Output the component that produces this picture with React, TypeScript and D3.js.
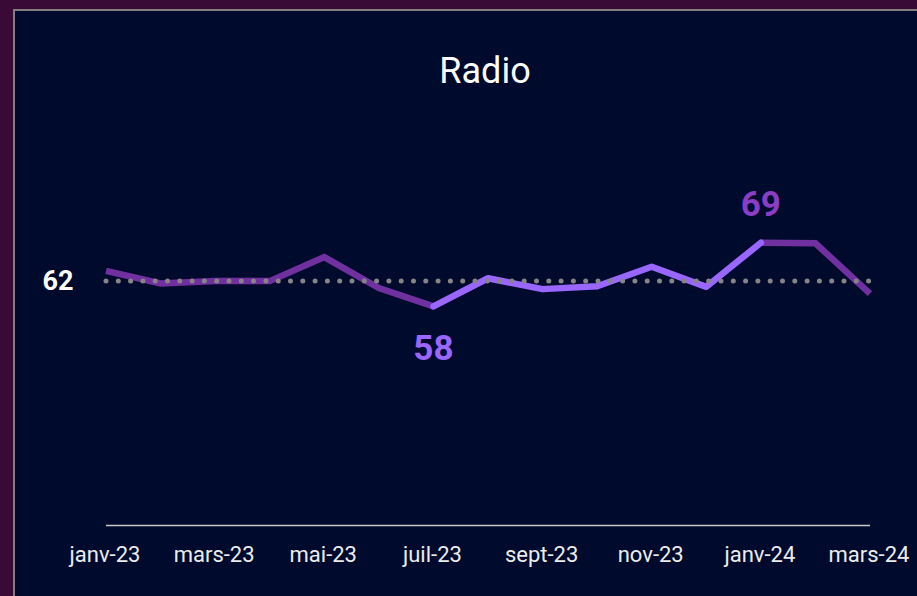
import * as d3 from "d3";
import { useEffect } from "react";

const months = [
  "janv-23", "févr-23", "mars-23", "avr-23", "mai-23", "juin-23", "juil-23",
  "août-23", "sept-23", "oct-23", "nov-23", "déc-23", "janv-24", "févr-24", "mars-24",
];
const values = [64.2, 62.0, 62.4, 62.4, 66.6, 61.2, 58.0, 62.9, 61.0, 61.5, 64.9, 61.4, 69.1, 69.0, 60.2];
const average = 62.4;
const tickLabels = ["janv-23", "mars-23", "mai-23", "juil-23", "sept-23", "nov-23", "janv-24", "mars-24"];
const title = "Radio";

const W = 917;
const H = 596;
const DARK = "#7030a0";
const LIGHT = "#9966ff";
const MAXCOL = "#8b3dc6";
const FONT = "Roboto, sans-serif";

export default function App() {
  useEffect(() => {
    document.body.style.margin = "0";
  }, []);

  const x = d3.scalePoint<string>().domain(months).range([106, 870]);
  const y = d3.scaleLinear().domain([20, 90]).range([524, 123]);

  const pts: [number, number][] = values.map((v, i) => [x(months[i])!, y(v)]);
  const line = d3.line();

  const iMin = d3.minIndex(values);
  const iMax = d3.maxIndex(values);
  const a = Math.min(iMin, iMax);
  const b = Math.max(iMin, iMax);

  // segments outside the min→max span are dark, the span itself is highlighted
  const darkParts = [pts.slice(0, a + 1), pts.slice(b)].filter((p) => p.length > 1);
  const lightPart = pts.slice(a, b + 1);

  const [x0, x1] = x.range();

  return (
    <svg width={W} height={H} style={{ display: "block" }}>
      <rect x={0} y={0} width={W} height={H} fill="#3a0a36" />
      <rect x={14} y={10} width={W + 20} height={H + 20} fill="#000a2c" stroke="#808080" strokeWidth={2} />

      <text x={485} y={83} textAnchor="middle" fill="#ffffff" fontFamily={FONT} fontSize={36}>
        {title}
      </text>

      {/* x axis */}
      <line x1={x0} x2={x1} y1={525.5} y2={525.5} stroke="#c8c8c8" strokeWidth={1.5} />
      {tickLabels.map((t) => (
        <text key={t} x={x(t)! - 1} y={562} textAnchor="middle" fill="#ececec" fontFamily={FONT} fontSize={22}>
          {t}
        </text>
      ))}

      {/* series */}
      {darkParts.map((p, i) => (
        <path key={i} d={line(p)!} fill="none" stroke={DARK} strokeWidth={6.5} strokeLinejoin="miter" />
      ))}
      <path d={line(lightPart)!} fill="none" stroke={LIGHT} strokeWidth={6.5} strokeLinecap="round" strokeLinejoin="round" />

      {/* average */}
      <line
        x1={x0}
        x2={x1}
        y1={y(average)}
        y2={y(average)}
        stroke="#858585"
        strokeWidth={5}
        strokeLinecap="round"
        strokeDasharray="0 12.3"
      />
      <text x={58} y={y(average) + 9} textAnchor="middle" fill="#ffffff" fontFamily={FONT} fontSize={27} fontWeight="bold">
        {Math.round(average)}
      </text>

      {/* min / max labels */}
      <text x={pts[iMin][0]} y={pts[iMin][1] + 54} textAnchor="middle" fill={LIGHT} fontFamily={FONT} fontSize={35} fontWeight="bold">
        {Math.round(values[iMin])}
      </text>
      <text x={pts[iMax][0]} y={pts[iMax][1] - 27} textAnchor="middle" fill={MAXCOL} fontFamily={FONT} fontSize={35} fontWeight="bold">
        {Math.round(values[iMax])}
      </text>
    </svg>
  );
}
